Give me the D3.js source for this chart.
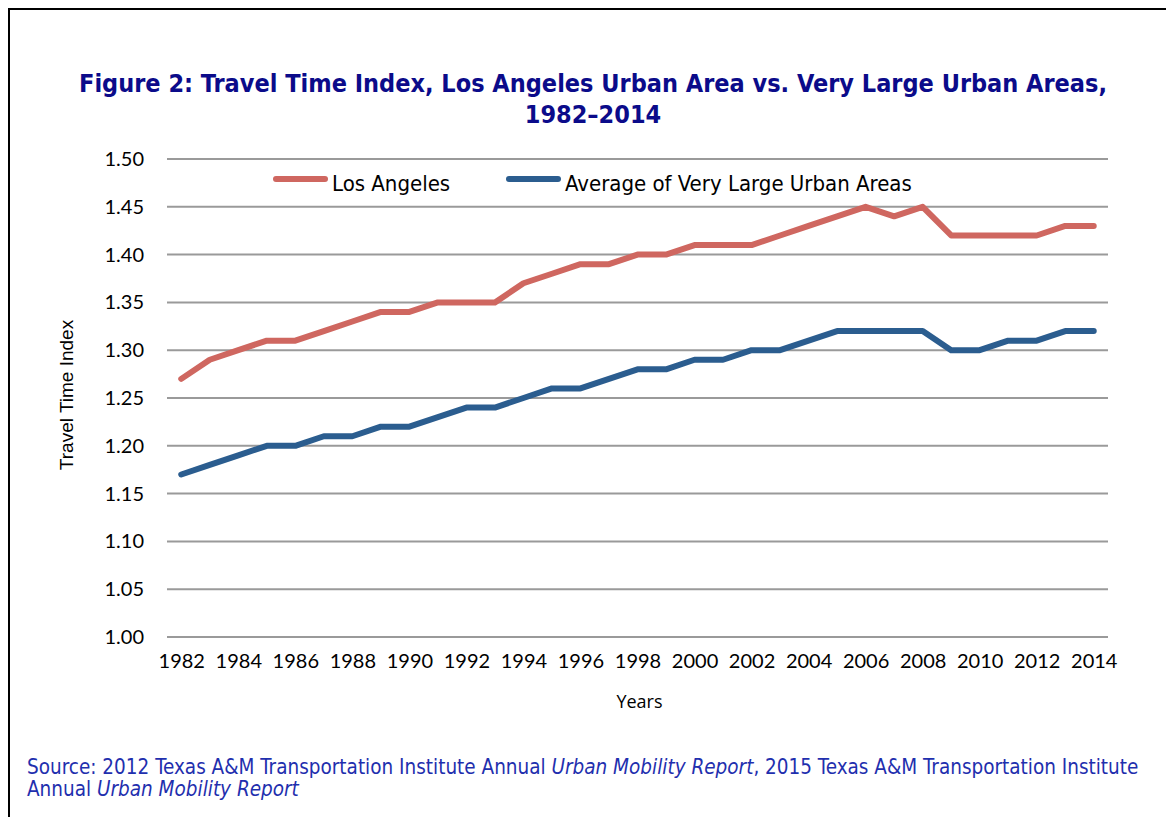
<!DOCTYPE html>
<html>
<head>
<meta charset="utf-8">
<script src="https://cdn.jsdelivr.net/npm/d3@7"></script>
<style>
  body { margin: 0; background: #fff; }
  svg { display: block; }
</style>
</head>
<body>
<div id="chart"></div>
<script>
// data
var years = d3.range(1982, 2015);
var losAngeles = [1.27, 1.29, 1.30, 1.31, 1.31, 1.32, 1.33, 1.34, 1.34, 1.35, 1.35,
  1.35, 1.37, 1.38, 1.39, 1.39, 1.40, 1.40, 1.41, 1.41, 1.41, 1.42, 1.43, 1.44,
  1.45, 1.44, 1.45, 1.42, 1.42, 1.42, 1.42, 1.43, 1.43];
var veryLarge = [1.17, 1.18, 1.19, 1.20, 1.20, 1.21, 1.21, 1.22, 1.22, 1.23, 1.24,
  1.24, 1.25, 1.26, 1.26, 1.27, 1.28, 1.28, 1.29, 1.29, 1.30, 1.30, 1.31, 1.32,
  1.32, 1.32, 1.32, 1.30, 1.30, 1.31, 1.31, 1.32, 1.32];
var yTicks = [1.00, 1.05, 1.10, 1.15, 1.20, 1.25, 1.30, 1.35, 1.40, 1.45, 1.50];
var xTickYears = d3.range(1982, 2015, 2);
var seriesNames = ["Los Angeles", "Average of Very Large Urban Areas"];

var svgWidth = 1166;
var svgHeight = 817;

var margin = { top: 159, right: 58, bottom: 180, left: 167 };
var width = svgWidth - margin.left - margin.right;
var height = svgHeight - margin.top - margin.bottom;

var svg = d3.select("#chart")
  .append("svg")
  .attr("width", svgWidth)
  .attr("height", svgHeight);

// frame: top and left rule
svg.append("path")
  .attr("d", "M9,817 L9,9 L1166,9")
  .attr("fill", "none")
  .attr("stroke", "#000")
  .attr("stroke-width", 2);

// title
var title = svg.append("text")
  .attr("text-anchor", "middle")
  .attr("fill", "#0b0b8a")
  .style("font-family", "'DejaVu Sans Condensed', 'DejaVu Sans', sans-serif")
  .style("font-weight", "bold")
  .style("font-size", "25px");
title.append("tspan").attr("x", 593).attr("y", 92)
  .text("Figure 2: Travel Time Index, Los Angeles Urban Area vs. Very Large Urban Areas,");
title.append("tspan").attr("x", 593).attr("y", 123)
  .text("1982\u20132014");

var chartGroup = svg.append("g")
  .attr("transform", `translate(${margin.left}, ${margin.top})`);

var xScale = d3.scalePoint()
  .domain(years)
  .range([0, width])
  .padding(0.5);

var yScale = d3.scaleLinear()
  .domain([1.0, 1.5])
  .range([height, 0]);

// gridlines
chartGroup.append("g")
  .selectAll("line")
  .data(yTicks)
  .enter()
  .append("line")
  .attr("x1", 0)
  .attr("x2", width)
  .attr("y1", d => yScale(d))
  .attr("y2", d => yScale(d))
  .attr("stroke", "#9a9a9a")
  .attr("stroke-width", 2);

// y axis labels
var leftAxis = d3.axisLeft(yScale)
  .tickValues(yTicks)
  .tickFormat(d3.format(".2f"))
  .tickSize(0)
  .tickPadding(23);
var yAxis = chartGroup.append("g").call(leftAxis);
yAxis.select(".domain").remove();
yAxis.selectAll("text")
  .attr("fill", "#000")
  .style("font-family", "Lato, 'Open Sans', sans-serif")
  .style("font-size", "20px");

// x axis labels
var bottomAxis = d3.axisBottom(xScale)
  .tickValues(xTickYears)
  .tickSize(0)
  .tickPadding(17);
var xAxis = chartGroup.append("g")
  .attr("transform", `translate(0, ${height})`)
  .call(bottomAxis);
xAxis.select(".domain").remove();
xAxis.selectAll("text")
  .attr("fill", "#000")
  .style("font-family", "Lato, 'Open Sans', sans-serif")
  .style("font-size", "20px");

// axis titles
chartGroup.append("text")
  .attr("x", width / 2 + 2)
  .attr("y", height + 71)
  .attr("text-anchor", "middle")
  .style("font-family", "'Open Sans', sans-serif")
  .style("font-size", "18px")
  .text("Years");

chartGroup.append("text")
  .attr("transform", "rotate(-90)")
  .attr("x", -236)
  .attr("y", -94)
  .attr("text-anchor", "middle")
  .style("font-family", "'Liberation Sans', Arial, sans-serif")
  .style("font-size", "19px")
  .text("Travel Time Index");

// series lines
var colors = ["#cf6760", "#2b5d8f"];
var line = d3.line()
  .x((d, i) => xScale(years[i]))
  .y(d => yScale(d));

[losAngeles, veryLarge].forEach(function(vals, k) {
  chartGroup.append("path")
    .datum(vals)
    .attr("d", line)
    .attr("fill", "none")
    .attr("stroke", colors[k])
    .attr("stroke-width", 6)
    .attr("stroke-linejoin", "round")
    .attr("stroke-linecap", "round");
});

// legend
var legendX = [273, 506];
seriesNames.forEach(function(name, k) {
  svg.append("line")
    .attr("x1", legendX[k] + 3)
    .attr("x2", legendX[k] + 52)
    .attr("y1", 179)
    .attr("y2", 179)
    .attr("stroke", colors[k])
    .attr("stroke-width", 6)
    .attr("stroke-linecap", "round");
  svg.append("text")
    .attr("x", legendX[k] + 59)
    .attr("y", 191)
    .style("font-family", "'Liberation Sans Narrow', 'DejaVu Sans Condensed', sans-serif")
    .style("font-size", "22px")
    .text(name);
});

// source note
var source = svg.append("text")
  .attr("fill", "#1f2fae")
  .style("font-family", "'Liberation Sans Narrow', 'DejaVu Sans Condensed', sans-serif")
  .style("font-size", "20.5px");
var l1 = source.append("tspan").attr("x", 27).attr("y", 774);
l1.append("tspan").text("Source: 2012 Texas A&M Transportation Institute Annual ");
l1.append("tspan").style("font-style", "italic").text("Urban Mobility Report");
l1.append("tspan").text(", 2015 Texas A&M Transportation Institute");
var l2 = source.append("tspan").attr("x", 27).attr("y", 796);
l2.append("tspan").text("Annual ");
l2.append("tspan").style("font-style", "italic").text("Urban Mobility Report");
</script>
</body>
</html>
